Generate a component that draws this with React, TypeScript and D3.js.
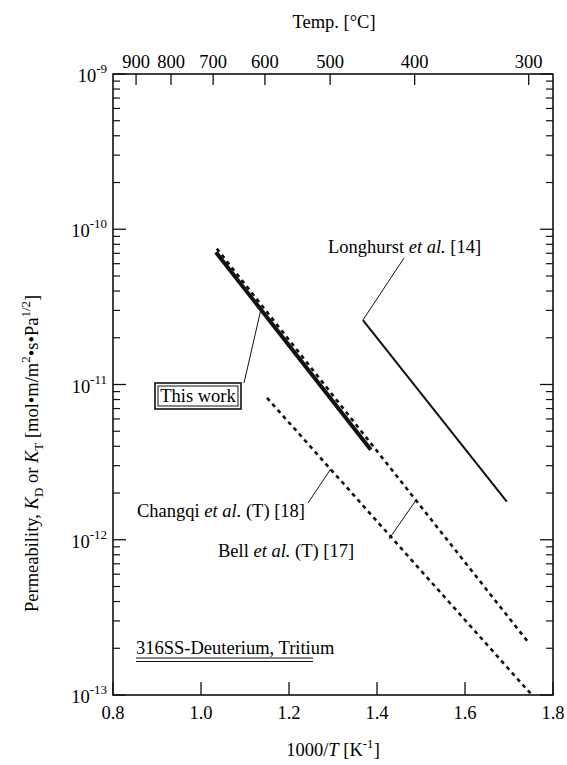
import React from "react";
import * as d3 from "d3";

// Arrhenius lines (1000/T [1/K], permeability [mol/m/s/Pa^0.5]), straight on a log scale
const thisWork: [number, number][] = [[1.034, 7.1e-11], [1.386, 3.8e-12]];
const bell: [number, number][] = [[1.036, 7.5e-11], [1.743, 2.2e-13]];
const changqi: [number, number][] = [[1.15, 8.2e-12], [1.752, 1.0e-13]];
const longhurst: [number, number][] = [[1.368, 2.6e-11], [1.695, 1.76e-12]];

const xTicks = [0.8, 1.0, 1.2, 1.4, 1.6, 1.8];
const tempTicks = [900, 800, 700, 600, 500, 400, 300];
const yDecades = [-9, -10, -11, -12, -13];

const W = 567;
const H = 765;
const M = { left: 113, right: 553, top: 74, bottom: 695 };
const FONT = "'Liberation Serif', 'DejaVu Serif', serif";
const FS = 18.5;

const x = d3.scaleLinear().domain([0.8, 1.8]).range([M.left, M.right]);
const y = d3.scaleLog().domain([1e-13, 1e-9]).range([M.bottom, M.top]);

const line = d3
  .line<[number, number]>()
  .x((d) => x(d[0]))
  .y((d) => y(d[1]));

// point on a series at a given fraction of its length
const along = (s: [number, number][], t: number): [number, number] => {
  const x0 = x(s[0][0]), y0 = y(s[0][1]);
  const x1 = x(s[1][0]), y1 = y(s[1][1]);
  return [x0 + (x1 - x0) * t, y0 + (y1 - y0) * t];
};

export default function App() {
  const minor: number[] = [];
  for (let e = -13; e < -9; e++) {
    for (let m = 2; m <= 9; m++) minor.push(m * Math.pow(10, e));
  }
  const stroke = "#111";

  const twAnchor = along(thisWork, 0.29);
  const lhAnchor = along(longhurst, 0);
  const cqAnchor = along(changqi, 0.24);
  const blAnchor = along(bell, 0.64);

  return (
    <svg
      width={W}
      height={H}
      style={{ position: "absolute", left: 0, top: 0, background: "#fff" }}
      fontFamily={FONT}
      fontSize={FS}
    >
      <defs>
        <clipPath id="plot">
          <rect x={M.left} y={M.top} width={M.right - M.left} height={M.bottom - M.top} />
        </clipPath>
      </defs>

      {/* frame */}
      <rect
        x={M.left}
        y={M.top}
        width={M.right - M.left}
        height={M.bottom - M.top}
        fill="none"
        stroke={stroke}
        strokeWidth={1.6}
      />

      {/* bottom / top ticks */}
      {xTicks.map((t) => (
        <g key={"xt" + t}>
          <line x1={x(t)} x2={x(t)} y1={M.bottom} y2={M.bottom - 13} stroke={stroke} strokeWidth={1.3} />
          <text x={x(t)} y={719} textAnchor="middle">
            {t.toFixed(1)}
          </text>
        </g>
      ))}
      {tempTicks.map((c) => {
        const px = x(1000 / (c + 273.15));
        return (
          <g key={"tt" + c}>
            <line x1={px} x2={px} y1={M.top} y2={M.top + 11} stroke={stroke} strokeWidth={1.3} />
            <text x={px} y={68} textAnchor="middle">
              {c}
            </text>
          </g>
        );
      })}

      {/* left / right log ticks */}
      {yDecades.map((e) => {
        const py = y(Math.pow(10, e));
        return (
          <g key={"yd" + e}>
            <line x1={M.left} x2={M.left + 13} y1={py} y2={py} stroke={stroke} strokeWidth={1.3} />
            <line x1={M.right} x2={M.right - 13} y1={py} y2={py} stroke={stroke} strokeWidth={1.3} />
            <text x={107} y={py + 8} textAnchor="end">
              10
              <tspan fontSize={13} dy={-9}>
                {e}
              </tspan>
            </text>
          </g>
        );
      })}
      {minor.map((v, i) => {
        const py = y(v);
        return (
          <g key={"ym" + i}>
            <line x1={M.left} x2={M.left + 7} y1={py} y2={py} stroke={stroke} strokeWidth={1.2} />
            <line x1={M.right} x2={M.right - 7} y1={py} y2={py} stroke={stroke} strokeWidth={1.2} />
          </g>
        );
      })}

      {/* axis titles */}
      <text x={334} y={28} textAnchor="middle">
        Temp. [°C]
      </text>
      <text x={333} y={756} textAnchor="middle">
        1000/<tspan fontStyle="italic">T</tspan> [K
        <tspan fontSize={13} dy={-8}>-1</tspan>
        <tspan dy={8}>]</tspan>
      </text>
      <text transform="translate(38,612) rotate(-90)">
        Permeability, <tspan fontStyle="italic">K</tspan>
        <tspan fontSize={13} dy={5}>D</tspan>
        <tspan dy={-5}> or </tspan>
        <tspan fontStyle="italic">K</tspan>
        <tspan fontSize={13} dy={5}>T</tspan>
        <tspan dy={-5}> [mol•m/m</tspan>
        <tspan fontSize={13} dy={-8}>2</tspan>
        <tspan dy={8}>•s•Pa</tspan>
        <tspan fontSize={13} dy={-8}>1/2</tspan>
        <tspan dy={8}>]</tspan>
      </text>

      {/* data lines */}
      <g clipPath="url(#plot)" fill="none">
        <path d={line(changqi) ?? ""} stroke={stroke} strokeWidth={2.6} strokeDasharray="4 4" />
        <path d={line(bell) ?? ""} stroke={stroke} strokeWidth={2.6} strokeDasharray="4 4" />
        <path d={line(longhurst) ?? ""} stroke={stroke} strokeWidth={2} />
        <path d={line(thisWork) ?? ""} stroke={stroke} strokeWidth={4} />
      </g>

      {/* annotations */}
      <g stroke={stroke} strokeWidth={1}>
        <line x1={twAnchor[0]} y1={twAnchor[1]} x2={244} y2={383} />
        <line x1={lhAnchor[0]} y1={lhAnchor[1]} x2={404} y2={258} />
        <line x1={cqAnchor[0]} y1={cqAnchor[1]} x2={308} y2={503} />
        <line x1={blAnchor[0]} y1={blAnchor[1]} x2={389} y2={539} />
      </g>

      <rect x={155} y={383} width={86} height={26} fill="none" stroke={stroke} strokeWidth={1.6} />
      <rect x={158} y={386} width={80} height={20} fill="none" stroke={stroke} strokeWidth={1} />
      <text x={198} y={402} textAnchor="middle">
        This work
      </text>

      <text x={328} y={253}>
        Longhurst <tspan fontStyle="italic">et al.</tspan> [14]
      </text>
      <text x={137} y={517}>
        Changqi <tspan fontStyle="italic">et al.</tspan> (T) [18]
      </text>
      <text x={218} y={557}>
        Bell <tspan fontStyle="italic">et al.</tspan> (T) [17]
      </text>

      <text x={136} y={654}>
        316SS-Deuterium, Tritium
      </text>
      <line x1={136} x2={313} y1={658} y2={658} stroke={stroke} strokeWidth={1.2} />
      <line x1={136} x2={313} y1={661.5} y2={661.5} stroke={stroke} strokeWidth={1.2} />
    </svg>
  );
}
